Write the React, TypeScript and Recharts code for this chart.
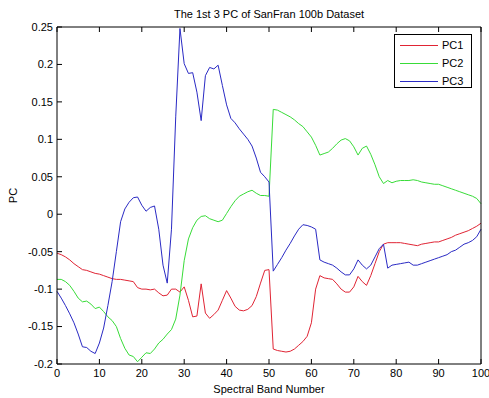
import React from 'react';
import { LineChart, Line, XAxis, YAxis, Legend } from 'recharts';

// spectral band index 0..100
const bands = Array.from({ length: 101 }, (_, i) => i);

const pc1 = [
  -0.052, -0.054, -0.057, -0.061, -0.066, -0.070, -0.074, -0.075, -0.077, -0.079,
  -0.080, -0.082, -0.084, -0.086, -0.087, -0.087, -0.088, -0.089, -0.090, -0.098,
  -0.100, -0.100, -0.101, -0.100, -0.105, -0.109, -0.108, -0.100, -0.100, -0.104,
  -0.097, -0.115, -0.137, -0.136, -0.093, -0.132, -0.139, -0.134, -0.128, -0.115,
  -0.102, -0.112, -0.123, -0.128, -0.129, -0.127, -0.122, -0.110, -0.092, -0.075,
  -0.074, -0.180, -0.182, -0.183, -0.184, -0.183, -0.180, -0.175, -0.170, -0.163,
  -0.145, -0.100, -0.082, -0.085, -0.086, -0.087, -0.093, -0.100, -0.104, -0.104,
  -0.097, -0.083, -0.090, -0.095, -0.082, -0.066, -0.050, -0.040, -0.038, -0.038,
  -0.038, -0.038, -0.039, -0.040, -0.041, -0.042, -0.040, -0.039, -0.038, -0.037,
  -0.037, -0.035, -0.033, -0.031, -0.028, -0.026, -0.024, -0.022, -0.019, -0.016,
  -0.012,
];

const pc2 = [
  -0.087, -0.087, -0.090, -0.095, -0.103, -0.112, -0.117, -0.116, -0.120, -0.126,
  -0.124, -0.130, -0.137, -0.142, -0.150, -0.166, -0.179, -0.188, -0.190, -0.197,
  -0.191, -0.185, -0.186, -0.180, -0.172, -0.167, -0.160, -0.154, -0.140, -0.108,
  -0.062, -0.033, -0.018, -0.008, -0.003, -0.002, -0.006, -0.008, -0.010, -0.008,
  0.001, 0.010, 0.018, 0.024, 0.027, 0.030, 0.032, 0.028, 0.025, 0.025,
  0.024, 0.140, 0.139, 0.136, 0.133, 0.130, 0.126, 0.121, 0.117, 0.110,
  0.103, 0.092, 0.079, 0.081, 0.083, 0.088, 0.094, 0.099, 0.101, 0.098,
  0.090, 0.079, 0.088, 0.091, 0.080, 0.066, 0.050, 0.041, 0.045, 0.042,
  0.044, 0.045, 0.045, 0.045, 0.046, 0.045, 0.043, 0.042, 0.041, 0.040,
  0.040, 0.038, 0.036, 0.034, 0.032, 0.030, 0.028, 0.026, 0.024, 0.021,
  0.014,
];

const pc3 = [
  -0.103, -0.112, -0.122, -0.133, -0.145, -0.160, -0.177, -0.178, -0.183, -0.186,
  -0.172, -0.152, -0.122, -0.090, -0.050, -0.010, 0.007, 0.016, 0.022, 0.023,
  0.012, 0.004, 0.009, 0.011, -0.020, -0.068, -0.092, -0.020, 0.130, 0.248,
  0.201, 0.188, 0.189, 0.163, 0.125, 0.185, 0.196, 0.194, 0.199, 0.172,
  0.146, 0.128, 0.122, 0.114, 0.107, 0.100, 0.091, 0.075, 0.056, 0.050,
  0.043, -0.076, -0.067, -0.058, -0.048, -0.039, -0.029, -0.020, -0.014, -0.015,
  -0.017, -0.020, -0.061, -0.064, -0.066, -0.068, -0.072, -0.077, -0.081, -0.081,
  -0.073, -0.061, -0.068, -0.073, -0.068, -0.057, -0.046, -0.040, -0.072, -0.068,
  -0.067, -0.066, -0.065, -0.064, -0.068, -0.068, -0.066, -0.064, -0.062, -0.060,
  -0.058, -0.056, -0.054, -0.050, -0.048, -0.044, -0.040, -0.038, -0.035, -0.030,
  -0.020,
];

const xTicks = [0, 10, 20, 30, 40, 50, 60, 70, 80, 90, 100];
const yTicks = [-0.2, -0.15, -0.1, -0.05, 0, 0.05, 0.1, 0.15, 0.2, 0.25];

const seriesNames = ['PC1', 'PC2', 'PC3'];
const seriesColors = ['#e02434', '#38dc38', '#2a2ac4'];

const data = bands.map((b, i) => ({ band: b, PC1: pc1[i], PC2: pc2[i], PC3: pc3[i] }));

const FONT = '"Liberation Sans", Arial, sans-serif';
const tickStyle = { fontSize: 11, fill: '#000', fontFamily: FONT };
const fmtY = (v: number) => String(Number(v.toFixed(2)));

const LegendBox = () => (
  <div
    style={{
      border: '1px solid #000',
      background: '#fff',
      width: 76,
      height: 52,
      boxSizing: 'content-box',
      fontFamily: FONT,
      fontSize: 11,
      color: '#000',
    }}
  >
    {seriesNames.map((name, i) => (
      <div key={name} style={{ height: 18, display: 'flex', alignItems: 'center', marginTop: i === 0 ? 1 : 0 }}>
        <svg width={47} height={18} style={{ display: 'block' }}>
          <line x1={5} x2={43} y1={9.5} y2={9.5} stroke={seriesColors[i]} strokeWidth={1} />
        </svg>
        <span style={{ color: '#000' }}>{name}</span>
      </div>
    ))}
  </div>
);

export default function App() {
  return (
    <div style={{ position: 'absolute', left: 0, top: 0, background: '#fff' }}>
      <LineChart width={489} height={398} data={data} margin={{ top: 0, right: 0, bottom: 0, left: 0 }}>
        <XAxis
          dataKey="band"
          type="number"
          domain={[0, 100]}
          ticks={xTicks}
          height={34}
          tickSize={-5}
          tickMargin={10}
          tick={tickStyle}
          stroke="#000"
          interval={0}
          label={{ value: 'Spectral Band Number', position: 'insideBottom', offset: 5, style: { fontSize: 11, fill: '#000', fontFamily: FONT } }}
        />
        <XAxis
          xAxisId="top"
          orientation="top"
          dataKey="band"
          type="number"
          domain={[0, 100]}
          ticks={xTicks}
          height={27}
          tickSize={-5}
          tickFormatter={() => ''}
          stroke="#000"
          interval={0}
          label={{ value: 'The 1st 3 PC of SanFran 100b Dataset', position: 'insideTop', offset: 10, style: { fontSize: 11, fill: '#000', fontFamily: FONT } }}
        />
        <YAxis
          type="number"
          domain={[-0.2, 0.25]}
          ticks={yTicks}
          allowDataOverflow
          width={57}
          tickSize={-5}
          tickMargin={9}
          tick={tickStyle}
          tickFormatter={fmtY}
          stroke="#000"
          interval={0}
          label={{ value: 'PC', angle: -90, position: 'insideLeft', offset: 13, style: { fontSize: 11, fill: '#000', fontFamily: FONT, textAnchor: 'middle' } }}
        />
        <YAxis
          yAxisId="right"
          orientation="right"
          type="number"
          domain={[-0.2, 0.25]}
          ticks={yTicks}
          width={8}
          tickSize={-5}
          tickFormatter={() => ''}
          stroke="#000"
          interval={0}
        />
        {seriesNames.map((name, i) => (
          <Line
            key={name}
            type="linear"
            dataKey={name}
            stroke={seriesColors[i]}
            strokeWidth={1}
            dot={false}
            activeDot={false}
            isAnimationActive={false}
          />
        ))}
        <Legend
          layout="vertical"
          align="center"
          verticalAlign="middle"
          content={<LegendBox />}
          wrapperStyle={{ top: 34, left: 394, width: 78, height: 54 }}
        />
      </LineChart>
    </div>
  );
}
